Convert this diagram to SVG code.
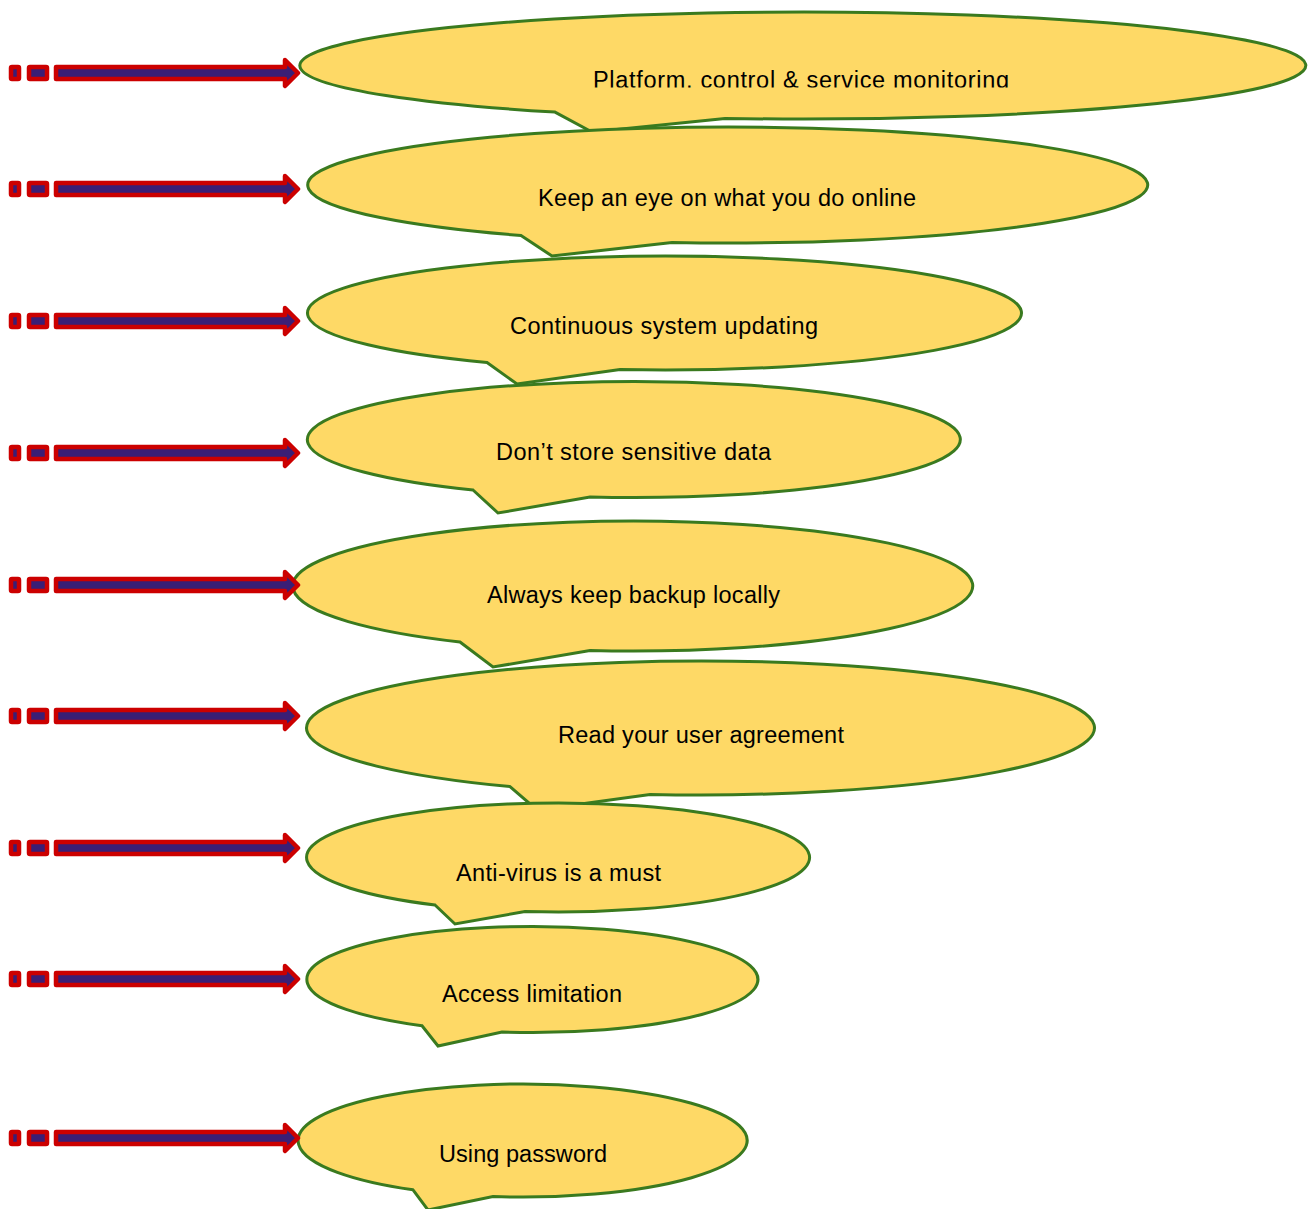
<svg xmlns="http://www.w3.org/2000/svg" width="1308" height="1209" viewBox="0 0 1308 1209">
<style>
.co{fill:#FED966;stroke:#3A7A1F;stroke-width:3;stroke-linejoin:miter}
.lbl{font-family:"Liberation Sans",Arial,sans-serif;font-size:23.5px;fill:#000;text-anchor:middle}
.ar{fill:#3A1E75;stroke:#CC0000;stroke-width:4.5;stroke-linejoin:round}
</style>
<defs>
<clipPath id="clip1"><rect x="300" y="0" width="1008" height="87.5"/></clipPath>
<g id="arrowShape">
<rect x="11" y="-6" width="8" height="12" rx="1"/>
<rect x="29" y="-6" width="18" height="12" rx="1"/>
<path d="M56,-6 H285 V-13 L298,0 L285,13 V6 H56 Z"/>
</g>
</defs>
<rect width="1308" height="1209" fill="#fff"/>
<g id="n1"><path class="co" d="M555,112.1 L592,132 L725,118.4 A503,53.5 0 1 0 555,112.1 Z"/><text class="lbl" x="801" y="88" textLength="416" clip-path="url(#clip1)">Platform, control &amp; service monitoring</text></g>
<g id="n2"><path class="co" d="M521,235.5 L552,256 L672,242.5 A420,58 0 1 0 521,235.5 Z"/><text class="lbl" x="727" y="206" textLength="378">Keep an eye on what you do online</text></g>
<g id="n3"><path class="co" d="M487,362.5 L517,384 L620,369.6 A357,57 0 1 0 487,362.5 Z"/><text class="lbl" x="664" y="334" textLength="308">Continuous system updating</text></g>
<g id="n4"><path class="co" d="M473,490 L498,513 L590,497 A326.5,58 0 1 0 473,490 Z"/><text class="lbl" x="633.5" y="460" textLength="275">Don’t store sensitive data</text></g>
<g id="n5"><path class="co" d="M460,642 L493,667 L590,650.5 A340,65 0 1 0 460,642 Z"/><text class="lbl" x="633.5" y="603" textLength="293">Always keep backup locally</text></g>
<g id="n6"><path class="co" d="M510,786.6 L537,810 L650,794.4 A394,67 0 1 0 510,786.6 Z"/><text class="lbl" x="701" y="743" textLength="286">Read your user agreement</text></g>
<g id="n7"><path class="co" d="M435,905 L455,924 L525,911.5 A251.5,54.5 0 1 0 435,905 Z"/><text class="lbl" x="558.5" y="881" textLength="205">Anti-virus is a must</text></g>
<g id="n8"><path class="co" d="M422,1025.7 L438,1046 L502,1032 A225.5,53 0 1 0 422,1025.7 Z"/><text class="lbl" x="532" y="1002" textLength="180">Access limitation</text></g>
<g id="n9"><path class="co" d="M413,1189.8 L428,1210 L493,1196.5 A224.5,56.5 0 1 0 413,1189.8 Z"/><text class="lbl" x="523" y="1162" textLength="168">Using password</text></g>
<g id="connectors" class="ar">
<use href="#arrowShape" y="73"/>
<use href="#arrowShape" y="189"/>
<use href="#arrowShape" y="321"/>
<use href="#arrowShape" y="453"/>
<use href="#arrowShape" y="585"/>
<use href="#arrowShape" y="716"/>
<use href="#arrowShape" y="848"/>
<use href="#arrowShape" y="979"/>
<use href="#arrowShape" y="1138"/>
</g>
</svg>
